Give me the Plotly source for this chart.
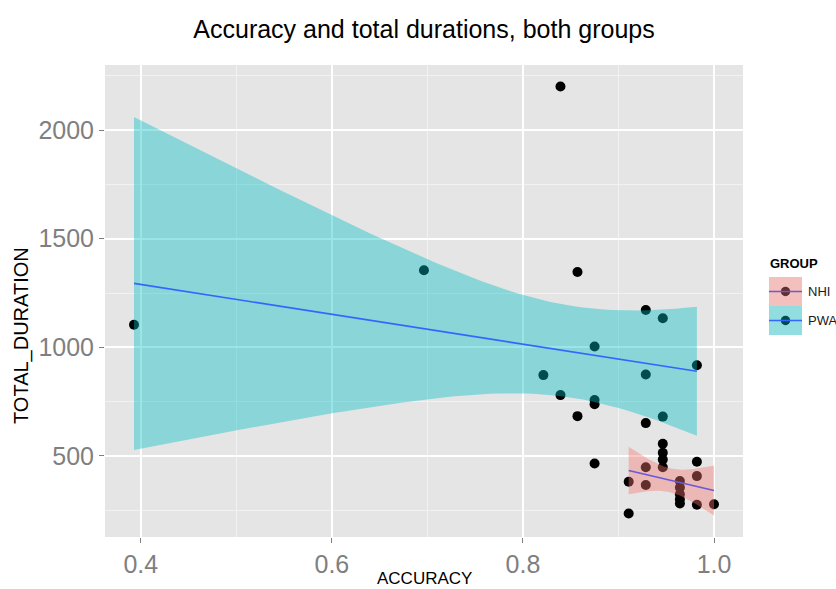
import numpy as np
import plotly.graph_objects as go

# ---- data ----
accuracy = [0.3929, 0.6964, 0.8214, 0.8393, 0.8393, 0.8571, 0.8571, 0.875, 0.875, 0.875, 0.875,
            0.9286, 0.9286, 0.9464, 0.9821, 0.9464, 0.9464,
            0.9107, 0.9107, 0.9286, 0.9286, 0.9286, 0.9464, 0.9464, 0.9464,
            0.9643, 0.9643, 0.9643, 0.9643, 0.9643, 0.9821, 0.9821, 0.9821, 1.0]
duration = [1104, 1355, 872, 2201, 780, 1347, 683, 1004, 757, 738, 465,
            1172, 875, 1134, 917, 681, 556,
            381, 235, 651, 448, 366, 514, 483, 448,
            384, 354, 323, 300, 281, 473, 407, 275, 277]
group = ["PWA"] * 17 + ["NHI"] * 17
groups = ["NHI", "PWA"]
title_text = "Accuracy and total durations, both groups"
x_title = "ACCURACY"
y_title = "TOTAL_DURATION"
legend_title = "GROUP"

# Student t 0.975 quantiles by degrees of freedom (for the 95% confidence band)
T975 = {10: 2.228, 11: 2.201, 12: 2.179, 13: 2.160, 14: 2.145, 15: 2.131, 16: 2.120,
        17: 2.110, 18: 2.101, 19: 2.093, 20: 2.086}

fill_col = {"NHI": "rgba(248,118,109,0.4)", "PWA": "rgba(0,191,196,0.4)"}
line_col = {"NHI": "#6A58D8", "PWA": "#3366FF"}

fig = go.Figure()
fig.add_trace(go.Scatter(x=accuracy, y=duration, mode="markers",
                         marker=dict(color="black", size=10, line=dict(width=0)),
                         showlegend=False, hoverinfo="x+y"))

allx = list(accuracy); ally = list(duration)
for g in groups:
    gx = np.array([a for a, gg in zip(accuracy, group) if gg == g])
    gy = np.array([d for d, gg in zip(duration, group) if gg == g], float)
    n = len(gx)
    xb = gx.mean()
    sxx = ((gx - xb) ** 2).sum()
    b = ((gx - xb) * (gy - gy.mean())).sum() / sxx
    a0 = gy.mean() - b * xb
    s = np.sqrt(((gy - a0 - b * gx) ** 2).sum() / (n - 2))
    xs = np.linspace(gx.min(), gx.max(), 80)
    yh = a0 + b * xs
    hw = T975[n - 2] * s * np.sqrt(1 / n + (xs - xb) ** 2 / sxx)
    ally += list(yh + hw) + list(yh - hw)
    fig.add_trace(go.Scatter(x=np.concatenate([xs, xs[::-1]]),
                             y=np.concatenate([yh + hw, (yh - hw)[::-1]]),
                             fill="toself", fillcolor=fill_col[g], line=dict(width=0), mode="lines",
                             xaxis="x2", yaxis="y2", showlegend=False, hoverinfo="skip"))
    fig.add_trace(go.Scatter(x=xs, y=yh, mode="lines", line=dict(color=line_col[g], width=1.6),
                             xaxis="x2", yaxis="y2", showlegend=False, hoverinfo="skip"))

# ggplot-style 5% expansion
xmin, xmax = min(allx), max(allx)
ymin, ymax = min(ally), max(ally)
xr = [xmin - 0.05 * (xmax - xmin), xmax + 0.05 * (xmax - xmin)]
yr = [ymin - 0.05 * (ymax - ymin), ymax + 0.05 * (ymax - ymin)]

FONT = "Liberation Sans, Arial, sans-serif"
L, R, T, B = 105, 93, 65, 52
W, H = 836, 589
PW, PH = W - L - R, H - T - B


def px(x):
    return (x - L) / PW


def py(y):
    return (H - B - y) / PH


axis_common = dict(showgrid=True, gridcolor="white", gridwidth=1.6, zeroline=False,
                   ticks="outside", ticklen=5, tickwidth=1, tickcolor="#7F7F7F",
                   tickfont=dict(family=FONT, size=25, color="#7F7F7F"), showline=False)
fig.update_layout(
    width=W, height=H, margin=dict(l=L, r=R, t=T, b=B),
    paper_bgcolor="white", plot_bgcolor="#E5E5E5",
    font=dict(family=FONT),
    title=dict(text=title_text, x=0.5, xref="paper", xanchor="center", y=1 - 29 / H, yref="container",
               yanchor="middle", font=dict(family=FONT, size=25, color="black")),
    xaxis=dict(range=xr, tickmode="linear", tick0=0, dtick=0.2, tickformat=".1f",
               minor=dict(dtick=0.1, showgrid=True, gridcolor="#F2F2F2", gridwidth=0.8, ticks=""),
               **axis_common),
    yaxis=dict(range=yr, tickmode="linear", tick0=0, dtick=500,
               minor=dict(dtick=250, showgrid=True, gridcolor="#F2F2F2", gridwidth=0.8, ticks=""),
               **axis_common),
    xaxis2=dict(range=xr, overlaying="x", visible=False),
    yaxis2=dict(range=yr, overlaying="y", visible=False),
)

annotations = [
    dict(text=x_title, x=0.5, y=py(589), xref="paper", yref="paper", xanchor="center", yanchor="bottom",
         borderpad=0, showarrow=False, font=dict(family=FONT, size=17, color="black")),
    dict(text=y_title, x=px(21), y=py(336), xref="paper", yref="paper", xanchor="center", yanchor="middle",
         textangle=-90, showarrow=False, font=dict(family=FONT, size=20, color="black")),
    dict(text="<b>" + legend_title + "</b>", x=px(768), y=py(263), xref="paper", yref="paper",
         xanchor="left", yanchor="middle", showarrow=False, font=dict(family=FONT, size=13, color="black")),
]
shapes = []
key_top = 277
key_h = 29
for i, g in enumerate(groups):
    y0 = key_top + i * key_h
    y1 = y0 + key_h
    yc = (y0 + y1) / 2
    shapes.append(dict(type="rect", xref="paper", yref="paper", x0=px(769), x1=px(802), y0=py(y1), y1=py(y0),
                       fillcolor="#F2F2F2", line=dict(width=0), layer="above"))
    shapes.append(dict(type="circle", xref="paper", yref="paper", x0=px(785.5 - 4.75), x1=px(785.5 + 4.75),
                       y0=py(yc + 4.75), y1=py(yc - 4.75), fillcolor="black", line=dict(width=0), layer="above"))
    shapes.append(dict(type="rect", xref="paper", yref="paper", x0=px(769), x1=px(802), y0=py(y1), y1=py(y0),
                       fillcolor=fill_col[g], line=dict(width=0), layer="above"))
    shapes.append(dict(type="line", xref="paper", yref="paper", x0=px(769), x1=px(802), y0=py(yc), y1=py(yc),
                       line=dict(color=line_col[g], width=1.6), layer="above"))
    annotations.append(dict(text=g, x=px(806), y=py(yc), xref="paper", yref="paper", xanchor="left",
                            yanchor="middle", showarrow=False, font=dict(family=FONT, size=13, color="#1A1A1A")))
fig.update_layout(shapes=shapes, annotations=annotations)
fig.write_html("out.html")
